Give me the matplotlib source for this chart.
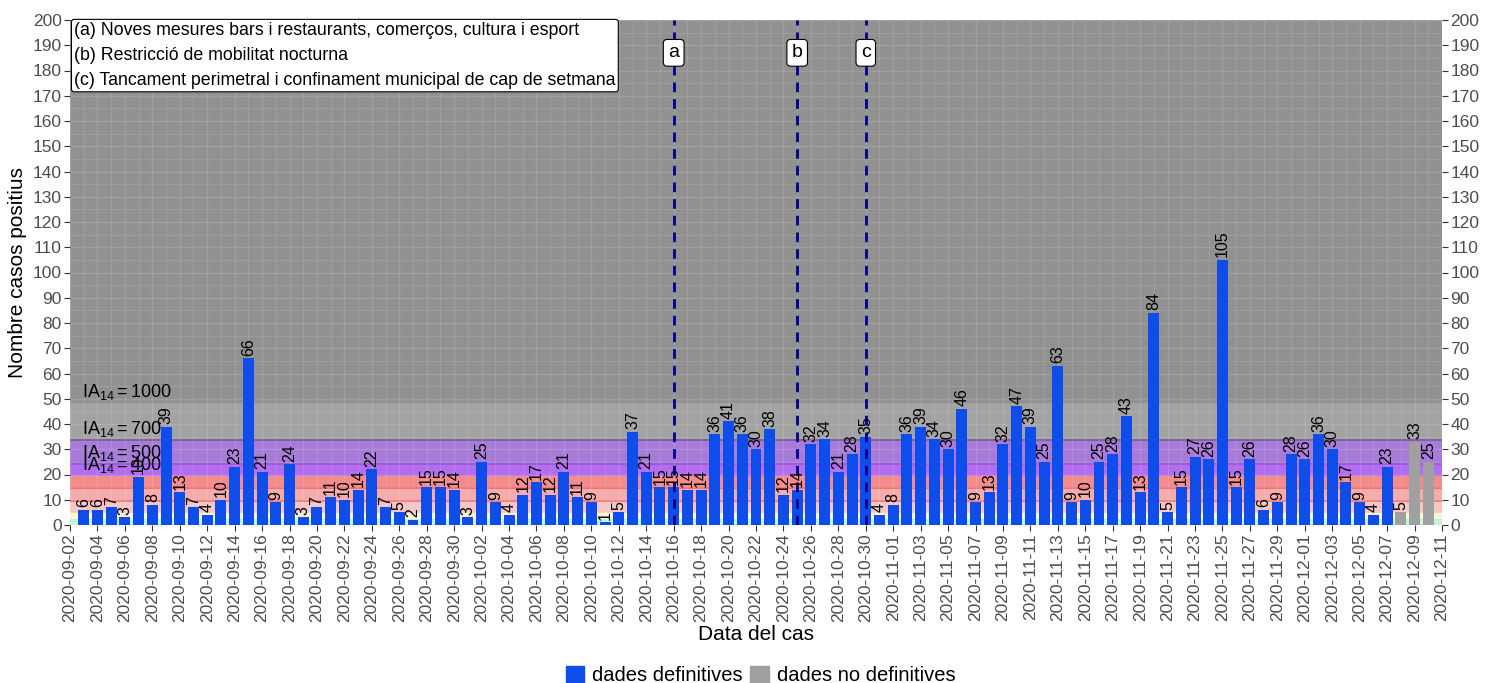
import numpy as np
import pandas as pd
import matplotlib
matplotlib.use("Agg")
import matplotlib.pyplot as plt
import matplotlib.dates as mdates
from matplotlib.patches import Patch

plt.rcParams['font.family'] = ['Liberation Sans', 'DejaVu Sans']
plt.rcParams['mathtext.fontset'] = 'custom'
plt.rcParams['mathtext.rm'] = 'Liberation Sans'
plt.rcParams['mathtext.it'] = 'Liberation Sans:italic'

# casos diaris, del 2020-09-03 al 2020-12-07 (definitius) i 12-08..12-10 (no definitius)
inici = "2020-09-03"
casos_def = [6, 6, 7, 3, 19, 8, 39, 13, 7, 4, 10, 23, 66, 21, 9, 24, 3, 7, 11, 10,
             14, 22, 7, 5, 2, 15, 15, 14,
             3, 25, 9, 4, 12, 17, 12, 21, 11, 9, 1, 5, 37, 21, 15, 15, 14, 14, 36, 41,
             36, 30, 38, 12, 14, 32, 34, 21, 28, 35, 4,
             8, 36, 39, 34, 30, 46, 9, 13, 32, 47, 39, 25, 63, 9, 10, 25, 28, 43, 13,
             84, 5, 15, 27, 26, 105, 15, 26, 6, 9, 28,
             26, 36, 30, 17, 9, 4, 23]
casos_nodef = [5, 33, 25]

mesures_dates = ["2020-10-16", "2020-10-25", "2020-10-30"]
mesures_lletres = ["a", "b", "c"]
mesures_text = ["(a) Noves mesures bars i restaurants, comerços, cultura i esport",
                "(b) Restricció de mobilitat nocturna",
                "(c) Tancament perimetral i confinament municipal de cap de setmana"]

# llindars d'IA14 (casos per 100.000 hab. en 14 dies)
poblacio = 67600
ia_llindars = [0, 50, 100, 200, 300, 400, 500, 700, 1000]
ia_colors = ["#bef5dc", "#faf5d2", "#f7c6c6", "#f5acac", "#f38d8d",
             "#b36ef0", "#a77bd8", "#a3a3a3", "#919191"]
ia_etiquetes = [400, 500, 700, 1000]
linies_llindar = {200: "#f07070", 300: "#f06868", 500: "#9858d8", 700: "#7a5a96"}


def ia_a_casos(ia):
    return ia * poblacio / 14 / 100000


dies_def = pd.date_range(inici, periods=len(casos_def), freq="D")
dies_nodef = pd.date_range(dies_def[-1] + pd.Timedelta(days=1), periods=len(casos_nodef), freq="D")
x_def = mdates.date2num(dies_def)
x_nodef = mdates.date2num(dies_nodef)

fig = plt.figure(figsize=(14.91, 6.83), dpi=100)
ax = fig.add_axes([70 / 1491, 1 - 525 / 683, (1442 - 70) / 1491, (525 - 20) / 683])

x0 = mdates.date2num(pd.Timestamp("2020-09-02"))
x1 = mdates.date2num(pd.Timestamp("2020-12-11"))
ymax = 200

# franges de fons
for i, ia in enumerate(ia_llindars):
    lo = ia_a_casos(ia)
    hi = ia_a_casos(ia_llindars[i + 1]) if i + 1 < len(ia_llindars) else ymax
    ax.axhspan(lo, hi, color=ia_colors[i], lw=0, zorder=0)
for ia, c in linies_llindar.items():
    ax.axhline(ia_a_casos(ia), color=c, lw=1.2, zorder=1)

# graella
for d in np.arange(x0, x1 + 1):
    ax.axvline(d, color="white", lw=1.0 if (d - x0) % 2 == 0 else 0.6, alpha=0.13, zorder=1)
for y in range(0, ymax + 1, 5):
    ax.axhline(y, color="white", lw=1.0 if y % 10 == 0 else 0.6, alpha=0.13, zorder=1)

# barres
ax.bar(x_def, casos_def, width=0.8, color="#0f4deb", zorder=3)
ax.bar(x_nodef, casos_nodef, width=0.8, color="#a0a0a0", zorder=3)
for x, v in zip(list(x_def) + list(x_nodef), casos_def + casos_nodef):
    ax.text(x, v + 1.0, str(v), rotation=90, ha="center", va="bottom", fontsize=11.5, zorder=5)

# etiquetes IA14
for ia in ia_etiquetes:
    ax.text(x0 + 0.9, ia_a_casos(ia) + 0.3, r"$\mathrm{IA}_{14}=\mathrm{%d}$" % ia,
            ha="left", va="bottom", fontsize=13, zorder=4)

# mesures
for d, l in zip(mesures_dates, mesures_lletres):
    xd = mdates.date2num(pd.Timestamp(d))
    ax.axvline(xd, color="#00008b", lw=2, ls=(0, (3.5, 2.5)), zorder=4)
    ax.text(xd, 187, l, ha="center", va="center", fontsize=14, zorder=6,
            bbox=dict(boxstyle="round,pad=0.25,rounding_size=0.2", fc="white", ec="black", lw=0.8))

ax.text(x0 + 0.3, 199.2, "\n".join(mesures_text), ha="left", va="top", fontsize=12.8,
        linespacing=1.62, zorder=6,
        bbox=dict(boxstyle="round,pad=0.15,rounding_size=0.15", fc="white", ec="black", lw=0.8))

ax.set_xlim(x0, x1)
ax.set_ylim(0, ymax)
ticks_x = pd.date_range("2020-09-02", "2020-12-11", freq="2D")
ax.set_xticks(mdates.date2num(ticks_x))
ax.set_xticklabels([t.strftime("%Y-%m-%d") for t in ticks_x], rotation=90, fontsize=12.5, color="#4d4d4d")
ax.set_yticks(range(0, ymax + 1, 10))
ax.tick_params(axis="y", left=True, right=True, labelleft=True, labelright=True,
               labelsize=12.5, labelcolor="#4d4d4d", color="#333333", length=4, pad=2)
ax.tick_params(axis="x", color="#333333", length=4, pad=2)
for s in ax.spines.values():
    s.set_visible(False)

ax.set_ylabel("Nombre casos positius", fontsize=15, labelpad=4)
ax.set_xlabel("Data del cas", fontsize=15, labelpad=2)

handles = [Patch(color="#0f4deb", label="dades definitives"),
           Patch(color="#a0a0a0", label="dades no definitives")]
fig.legend(handles=handles, loc="lower center", bbox_to_anchor=(0.51, -0.03), ncol=2,
           frameon=False, fontsize=14.5, handlelength=0.9, handleheight=0.9,
           handletextpad=0.4, columnspacing=0.4)

fig.savefig("out.png", dpi=100)
